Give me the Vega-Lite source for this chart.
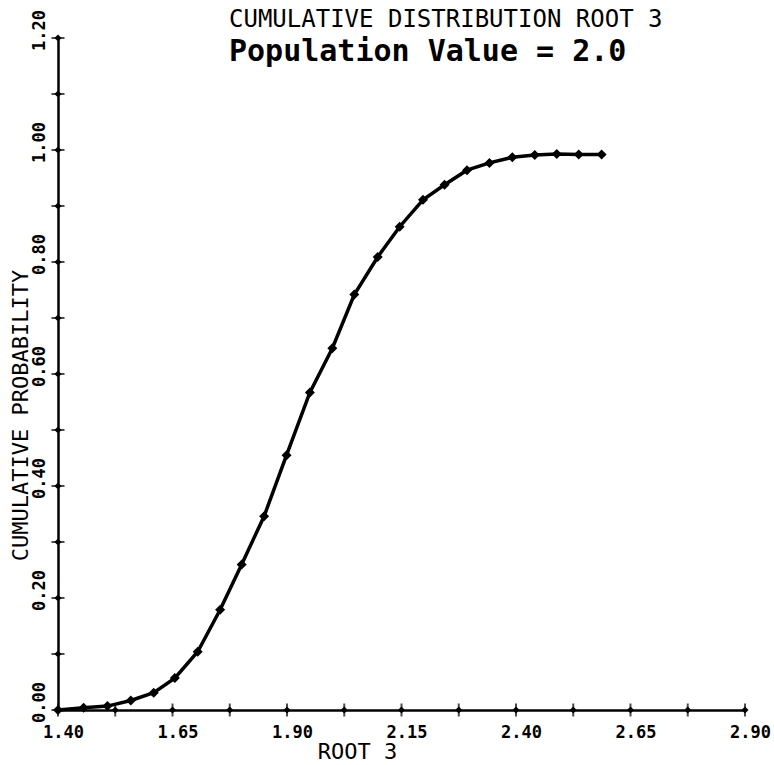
{
  "$schema": "https://vega.github.io/schema/vega-lite/v6.json",
  "width": 687,
  "height": 672,
  "autosize": {"type": "none"},
  "padding": {"left": 58, "top": 38, "right": 29, "bottom": 55},
  "background": "white",
  "config": {"view": {"stroke": null}, "font": "DejaVu Sans Mono"},
  "title": {
    "text": "CUMULATIVE DISTRIBUTION ROOT 3",
    "subtitle": "Population Value = 2.0",
    "anchor": "start",
    "frame": "group",
    "dx": 171,
    "offset": -57,
    "font": "DejaVu Sans Mono",
    "fontSize": 24,
    "fontWeight": "normal",
    "color": "black",
    "subtitleFont": "DejaVu Sans Mono",
    "subtitleFontSize": 30,
    "subtitleFontWeight": "bold",
    "subtitleColor": "black",
    "subtitlePadding": 5
  },
  "datasets": {
    "curve": [
      {"x": 1.400, "p": 0.000},
      {"x": 1.456, "p": 0.004},
      {"x": 1.508, "p": 0.007},
      {"x": 1.559, "p": 0.017},
      {"x": 1.609, "p": 0.031},
      {"x": 1.655, "p": 0.057},
      {"x": 1.705, "p": 0.104},
      {"x": 1.754, "p": 0.179},
      {"x": 1.801, "p": 0.260},
      {"x": 1.850, "p": 0.346},
      {"x": 1.899, "p": 0.455},
      {"x": 1.950, "p": 0.567},
      {"x": 1.999, "p": 0.646},
      {"x": 2.047, "p": 0.742},
      {"x": 2.098, "p": 0.809},
      {"x": 2.146, "p": 0.863},
      {"x": 2.197, "p": 0.911},
      {"x": 2.244, "p": 0.938},
      {"x": 2.293, "p": 0.964},
      {"x": 2.342, "p": 0.977},
      {"x": 2.392, "p": 0.987},
      {"x": 2.441, "p": 0.991},
      {"x": 2.489, "p": 0.993},
      {"x": 2.537, "p": 0.992},
      {"x": 2.587, "p": 0.992}
    ],
    "xticks": [
      {"x": 1.4}, {"x": 1.525}, {"x": 1.65}, {"x": 1.775}, {"x": 1.9}, {"x": 2.025}, {"x": 2.15},
      {"x": 2.275}, {"x": 2.4}, {"x": 2.525}, {"x": 2.65}, {"x": 2.775}, {"x": 2.9}
    ],
    "yticks": [
      {"p": 0.0}, {"p": 0.1}, {"p": 0.2}, {"p": 0.3}, {"p": 0.4}, {"p": 0.5}, {"p": 0.6},
      {"p": 0.7}, {"p": 0.8}, {"p": 0.9}, {"p": 1.0}, {"p": 1.1}, {"p": 1.2}
    ]
  },
  "layer": [
    {
      "data": {"name": "curve"},
      "mark": {
        "type": "line",
        "color": "black",
        "strokeWidth": 3.5,
        "point": {"shape": "diamond", "size": 100, "filled": true, "color": "black"}
      },
      "encoding": {
        "x": {
          "field": "x",
          "type": "quantitative",
          "scale": {"domain": [1.4, 2.9], "nice": false, "zero": false},
          "axis": {
            "values": [1.4, 1.65, 1.9, 2.15, 2.4, 2.65, 2.9],
            "format": ".2f",
            "grid": false,
            "ticks": false,
            "tickSize": 0,
            "domainColor": "black",
            "domainWidth": 2.5,
            "labelFont": "DejaVu Sans Mono",
            "labelFontSize": 17,
            "labelFontWeight": "bold",
            "labelColor": "black",
            "labelPadding": 14,
            "labelOffset": 5,
            "labelFlush": false,
            "labelBaseline": "top",
            "title": "ROOT 3",
            "titleFont": "DejaVu Sans Mono",
            "titleFontSize": 22,
            "titleFontWeight": "normal",
            "titleColor": "black",
            "titleX": 299,
            "titleY": 48,
            "titleBaseline": "alphabetic",
            "titleAlign": "center"
          }
        },
        "y": {
          "field": "p",
          "type": "quantitative",
          "scale": {"domain": [0, 1.2], "nice": false},
          "axis": {
            "values": [0, 0.2, 0.4, 0.6, 0.8, 1.0, 1.2],
            "format": ".2f",
            "grid": false,
            "ticks": false,
            "tickSize": 0,
            "domainColor": "black",
            "domainWidth": 2.5,
            "labelFont": "DejaVu Sans Mono",
            "labelFontSize": 17,
            "labelFontWeight": "bold",
            "labelColor": "black",
            "labelAngle": -90,
            "labelAlign": "center",
            "labelBaseline": "bottom",
            "labelPadding": 10,
            "labelOffset": -8,
            "labelFlush": false,
            "title": "CUMULATIVE PROBABILITY",
            "titleFont": "DejaVu Sans Mono",
            "titleFontSize": 22,
            "titleFontWeight": "normal",
            "titleColor": "black",
            "titleAngle": -90,
            "titleX": -31,
            "titleY": 377,
            "titleAlign": "center",
            "titleBaseline": "alphabetic"
          }
        }
      }
    },
    {
      "data": {"name": "xticks"},
      "mark": {"type": "tick", "orient": "vertical", "size": 13, "thickness": 2, "color": "black"},
      "encoding": {
        "x": {"field": "x", "type": "quantitative"},
        "y": {"datum": 0, "type": "quantitative"}
      }
    },
    {
      "data": {"name": "xticks"},
      "mark": {"type": "point", "shape": "diamond", "size": 50, "filled": true, "color": "black", "opacity": 1},
      "encoding": {
        "x": {"field": "x", "type": "quantitative"},
        "y": {"datum": 0, "type": "quantitative"}
      }
    },
    {
      "data": {"name": "yticks"},
      "mark": {"type": "tick", "orient": "horizontal", "size": 13, "thickness": 2, "color": "black"},
      "encoding": {
        "x": {"datum": 1.4, "type": "quantitative"},
        "y": {"field": "p", "type": "quantitative"}
      }
    },
    {
      "data": {"name": "yticks"},
      "mark": {"type": "point", "shape": "diamond", "size": 50, "filled": true, "color": "black", "opacity": 1},
      "encoding": {
        "x": {"datum": 1.4, "type": "quantitative"},
        "y": {"field": "p", "type": "quantitative"}
      }
    }
  ]
}
